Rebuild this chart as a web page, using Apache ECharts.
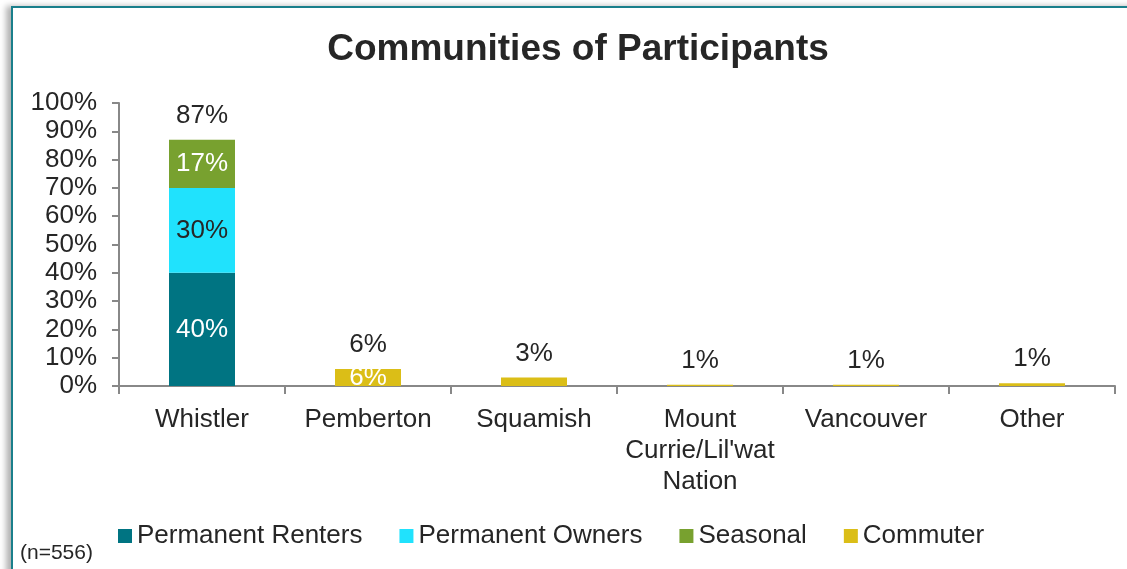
<!DOCTYPE html>
<html>
<head>
<meta charset="utf-8">
<title>Communities of Participants</title>
<script src="https://cdn.jsdelivr.net/npm/echarts@6/dist/echarts.min.js"></script>
<style>
  html, body {
    margin: 0;
    padding: 0;
    background: #fff;
    overflow: hidden;
  }
  .frame {
    position: absolute;
    left: 11px;
    top: 6px;
    width: 1300px;
    height: 800px;
    border-top: 2px solid #1a7f8b;
    border-left: 2px solid #1a7f8b;
    box-shadow: -5px 0 6px rgba(0, 0, 0, 0.3);
  }
  #chart {
    position: absolute;
    left: 0;
    top: 0;
    width: 1127px;
    height: 569px;
  }
</style>
</head>
<body>
<div class="frame"></div>
<div id="chart"></div>
<script>
  const categories = ['Whistler', 'Pemberton', 'Squamish', "Mount\nCurrie/Lil'wat\nNation", 'Vancouver', 'Other'];
  const renters = [40, null, null, null, null, null];
  const owners = [30, null, null, null, null, null];
  const seasonal = [17, null, null, null, null, null];
  const commuter = [null, 6, 3, 0.4, 0.4, 1];
  const totals = [87, 6, 3, 1, 1, 1];

  const textColor = '#262626';
  const fontFamily = '"Liberation Sans", Arial, sans-serif';
  const chart = echarts.init(document.getElementById('chart'));

  const option = {
    animation: false,
    textStyle: { fontFamily: fontFamily },
    graphic: [
      {
        type: 'text',
        x: 578,
        y: 50,
        style: {
          text: 'Communities of Participants',
          font: 'bold 37px ' + fontFamily,
          fill: textColor,
          align: 'center',
          verticalAlign: 'middle',
        },
      },
      {
        type: 'text',
        x: 20,
        y: 553,
        style: {
          text: '(n=556)',
          font: '21px ' + fontFamily,
          fill: textColor,
          align: 'left',
          verticalAlign: 'middle',
        },
      },
    ],
    legend: {
      data: ['Permanent Renters', 'Permanent Owners', 'Seasonal', 'Commuter'],
      left: 113,
      top: 518,
      icon: 'rect',
      itemWidth: 14,
      itemHeight: 14,
      itemGap: 37,
      textStyle: { fontSize: 26, color: textColor },
    },
    grid: { left: 119, right: 12, top: 103, bottom: 183 },
    xAxis: {
      type: 'category',
      data: categories,
      axisLine: { lineStyle: { color: '#888', width: 2 } },
      axisTick: { show: true, length: 8, lineStyle: { color: '#888', width: 2 } },
      axisLabel: { fontSize: 26, color: textColor, margin: 18, lineHeight: 31, interval: 0 },
    },
    yAxis: {
      type: 'value',
      min: 0,
      max: 100,
      interval: 10,
      axisLine: { show: true, lineStyle: { color: '#888', width: 2 } },
      axisTick: { show: true, length: 7, lineStyle: { color: '#888', width: 2 } },
      splitLine: { show: false },
      axisLabel: { fontSize: 26, color: textColor, margin: 22, formatter: '{value}%' },
    },
    series: [
      {
        name: 'Permanent Renters',
        type: 'bar',
        stack: 'a',
        barWidth: 66,
        data: renters,
        itemStyle: { color: '#007482' },
        label: { show: true, position: 'inside', fontSize: 26, color: '#fff', formatter: '{c}%' },
      },
      {
        name: 'Permanent Owners',
        type: 'bar',
        stack: 'a',
        data: owners,
        itemStyle: { color: '#20e2fd' },
        label: { show: true, position: 'inside', fontSize: 26, color: textColor, formatter: '{c}%' },
      },
      {
        name: 'Seasonal',
        type: 'bar',
        stack: 'a',
        data: seasonal,
        itemStyle: { color: '#78a12f' },
        label: { show: true, position: 'inside', fontSize: 26, color: '#fff', formatter: '{c}%' },
      },
      {
        name: 'Commuter',
        type: 'bar',
        stack: 'a',
        data: commuter.map((v, i) => ({
          value: v,
          label: { show: i === 1 },
        })),
        itemStyle: { color: '#dbbe17' },
        label: { position: 'inside', fontSize: 26, color: '#fff', formatter: '{c}%' },
      },
      {
        name: 'Total',
        type: 'bar',
        stack: 'a',
        data: totals.map(() => 0),
        itemStyle: { color: 'transparent' },
        label: {
          show: true,
          position: 'top',
          distance: 11,
          fontSize: 26,
          color: textColor,
          formatter: (p) => totals[p.dataIndex] + '%',
        },
      },
    ],
  };

  chart.setOption(option);
</script>
</body>
</html>
